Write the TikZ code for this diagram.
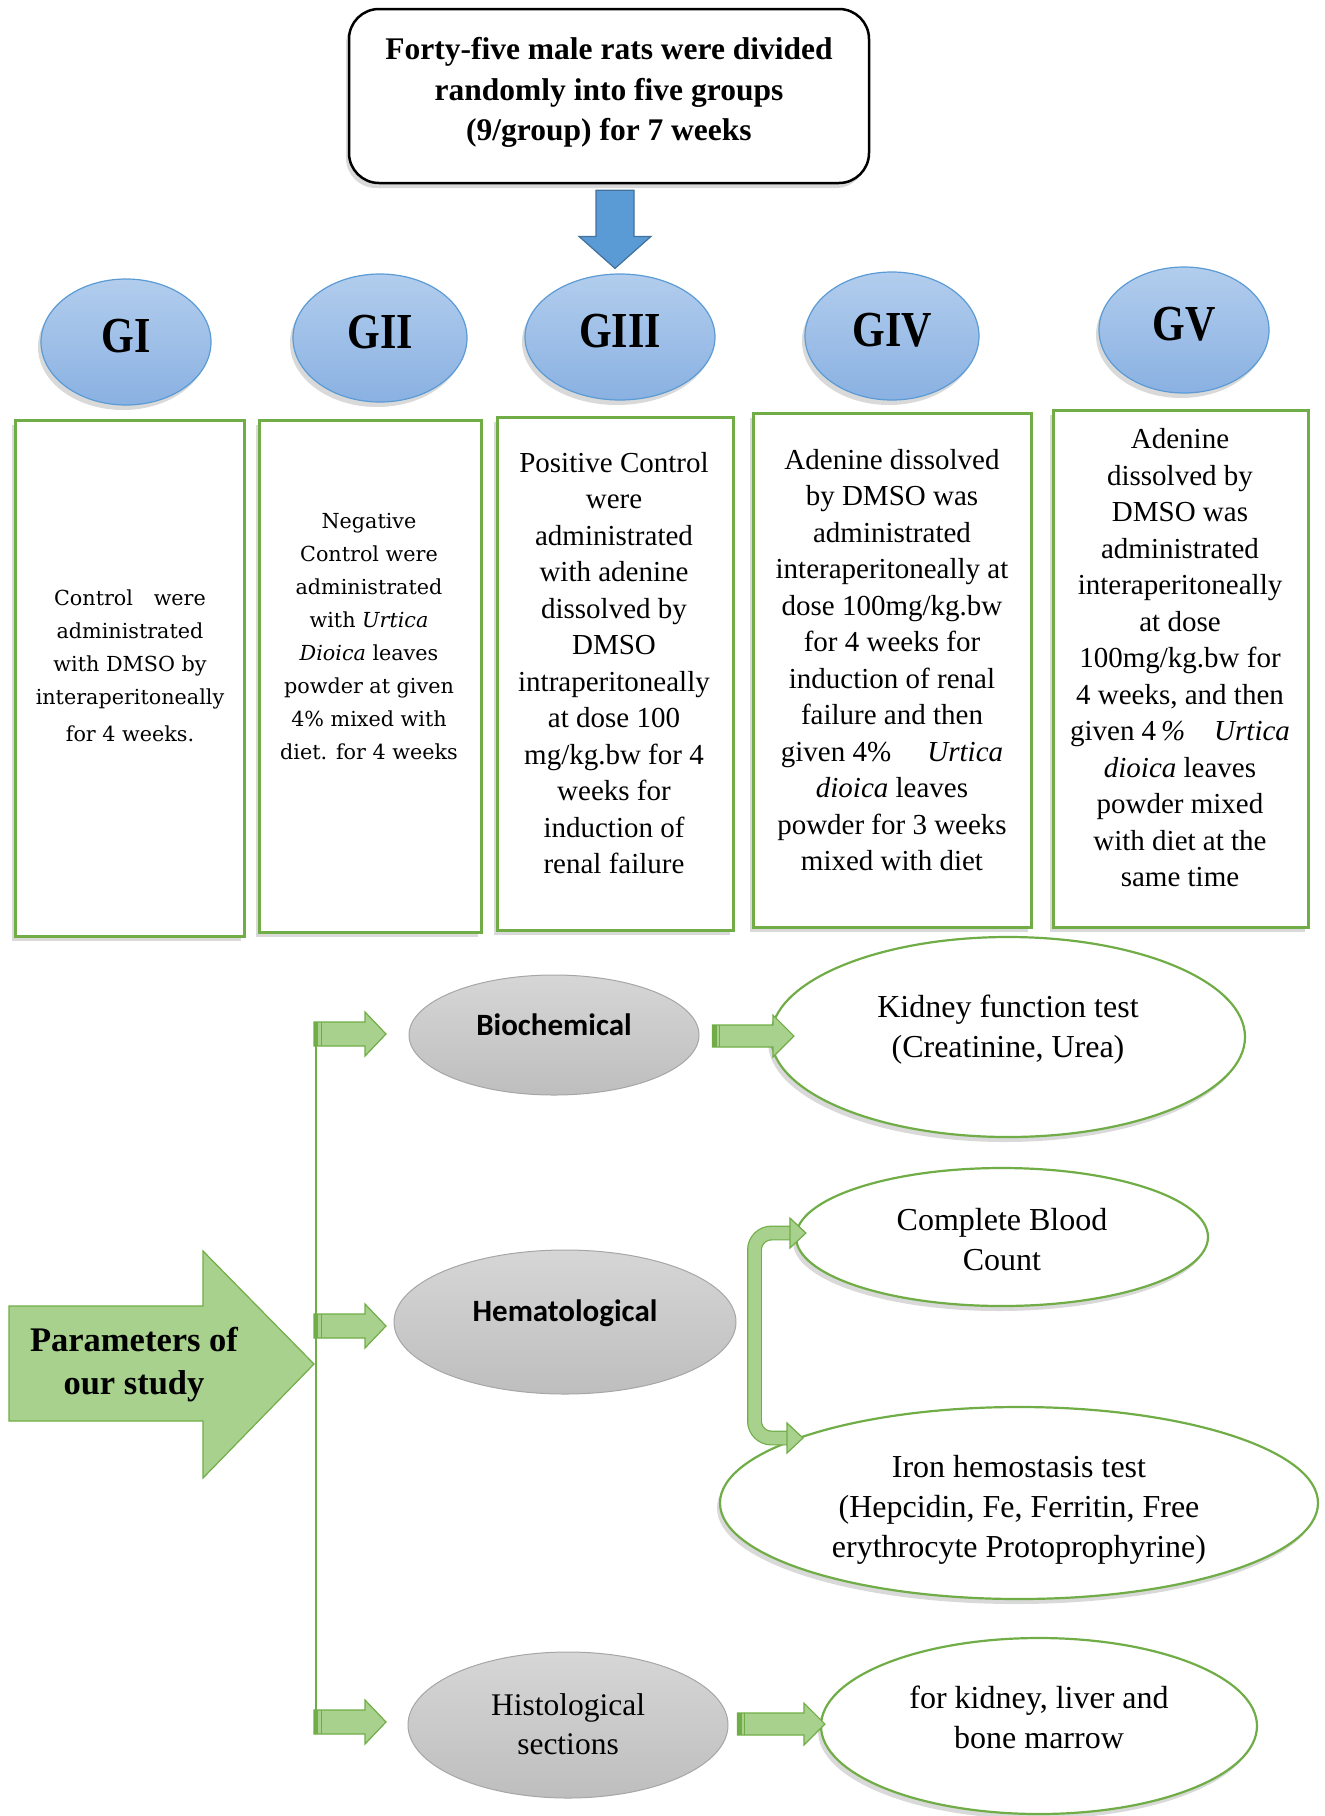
\documentclass[tikz,border=0pt]{standalone}
\usepackage{fontspec}
\usepackage{graphicx}
\setmainfont{Liberation Serif}
\newfontfamily\dvserif{DejaVu Serif}
\newfontfamily\carl{Carlito}
\usetikzlibrary{shadows,calc,shapes.geometric}
\definecolor{gborder}{RGB}{112,173,71}
\definecolor{gfill}{RGB}{169,209,142}
\definecolor{bluetop}{RGB}{178,205,237}
\definecolor{bluebot}{RGB}{138,177,226}
\definecolor{blueline}{RGB}{91,155,213}
\definecolor{bluearrow}{RGB}{91,155,213}
\definecolor{bluearrowline}{RGB}{65,113,156}
\definecolor{graytop}{RGB}{214,214,214}
\definecolor{graybot}{RGB}{190,190,190}
\definecolor{grayline}{RGB}{166,166,166}

\newcommand\hblock[5]{%
  \draw[garrow] let \p1=(#1), \p2=(#2) in
   (\x1,\y1+#3) -- (\x2-#5,\y1+#3) -- (\x2-#5,\y1+#4) -- (\x2,\y1) --
   (\x2-#5,\y1-#4) -- (\x2-#5,\y1-#3) -- (\x1,\y1-#3) -- cycle;
  \fill[gborder] let \p1=(#1) in (\x1,\y1+#3) rectangle (\x1+4pt,\y1-#3);
  \draw[gborder, line width=1pt] let \p1=(#1) in (\x1+7pt,\y1+#3) -- (\x1+7pt,\y1-#3);}
\newcommand\bentarr[2]{%
  \draw[bent] let \p1=(#1), \p2=(#2) in (\p1) |- (\x2-16pt,\y2);
  \draw[garrow] let \p2=(#2) in (\x2-16pt,\y2+15pt) -- (\p2) -- (\x2-16pt,\y2-15pt) -- cycle;}

\tikzset{
  shd/.style={drop shadow={shadow xshift=-3pt, shadow yshift=-5pt, opacity=0.3}},
  topbox/.style={draw=black, line width=2.5pt, rounded corners=30pt, fill=white, shd},
  grpell/.style={ellipse, draw=blueline, line width=1.2pt, top color=bluetop, bottom color=bluebot, inner sep=0pt, shd, font=\bfseries\fontsize{42}{42}\selectfont},
  grpbox/.style={draw=gborder, line width=3pt, fill=white, shd},
  grptxt/.style={align=center, inner sep=0pt, font=\fontsize{29}{36.5}\selectfont},
  oldtxt/.style={align=center, inner sep=0pt, font=\dvserif\fontsize{20.7}{33}\selectfont},
  grayell/.style={ellipse, draw=grayline, line width=1pt, top color=graytop, bottom color=graybot, inner sep=0pt},
  whiteell/.style={ellipse, draw=gborder, line width=2.2pt, fill=white, inner sep=0pt, shd},
  ovaltxt/.style={align=center, inner sep=0pt, font=\fontsize{32}{40}\selectfont},
  sanstxt/.style={inner sep=0pt, font=\carl\bfseries\fontsize{31}{36}\selectfont},
  garrow/.style={draw=gborder, line width=1.2pt, fill=gfill},
  bluearr/.style={fill=bluearrow, draw=bluearrowline, line width=1.2pt},
  bent/.style={draw=gborder, line width=1.2pt, double=gfill, double distance=12.5pt, rounded corners=17pt},
}
\newcommand\glabel[1]{\raisebox{12.5pt}{\scalebox{1}[1.2]{#1}}}

\begin{document}
\begin{tikzpicture}[x=1pt,y=-1pt]
\useasboundingbox (0,0) rectangle (1325,1816);

% ---------- top box ----------
\node[topbox, minimum width=520pt, minimum height=174pt] (top) at (609,96) {};
\node[align=center, inner sep=0pt, font=\bfseries\fontsize{31.5}{40.5}\selectfont] (toptxt) at (609,92.5)
  {Forty-five male rats were divided\\randomly into five groups\\(9/group) for 7 weeks};

% ---------- group ellipses ----------
\node[grpell, minimum width=170pt, minimum height=126pt] (g1) at (126,342) {\glabel{GI}};
\node[grpell, minimum width=174pt, minimum height=128pt] (g2) at (380,338) {\glabel{GII}};
\node[grpell, minimum width=190pt, minimum height=126pt] (g3) at (620,337) {\glabel{GIII}};
\node[grpell, minimum width=174pt, minimum height=128pt] (g4) at (892,336) {\glabel{GIV}};
\node[grpell, minimum width=170pt, minimum height=126pt] (g5) at (1184,330) {\glabel{GV}};

% ---------- blue arrow ----------
\draw[bluearr] let \p1=($(top.south)+(6,6)$), \p2=($(g3.north)+(-5,-5)$) in
  (\x1-19pt,\y1) -- (\x1+19pt,\y1) -- (\x1+19pt,\y2+32pt) -- (\x1+36pt,\y2+32pt) --
  (\x1,\y2) -- (\x1-36pt,\y2+32pt) -- (\x1-19pt,\y2+32pt) -- cycle;

% ---------- group boxes ----------
\node[grpbox, minimum width=229pt, minimum height=516pt] (b1) at (129.5,678) {};
\node[grpbox, minimum width=222pt, minimum height=512pt] (b2) at (370,676) {};
\node[grpbox, minimum width=236pt, minimum height=513pt] (b3) at (615,673.5) {};
\node[grpbox, minimum width=278pt, minimum height=514pt] (b4) at (892,670) {};
\node[grpbox, minimum width=255pt, minimum height=517pt] (b5) at (1180.5,668.5) {};

\node[oldtxt] (t1) at (130,666) {Control\quad were\\administrated\\with DMSO by\\interaperitoneally\\[4pt]for 4 weeks.};
\node[oldtxt] (t2) at (369,637) {Negative\\Control were\\administrated\\with \textit{Urtica}\\\textit{Dioica} leaves\\powder at given\\4\% mixed with\\diet. for 4 weeks};
\node[grptxt] (t3) at (614,663) {Positive Control\\were\\administrated\\with adenine\\dissolved by\\DMSO\\intraperitoneally\\at dose 100\\mg/kg.bw for 4\\weeks for\\induction of\\renal failure};
\node[grptxt] (t4) at (892,660) {Adenine dissolved\\by DMSO was\\administrated\\interaperitoneally at\\dose 100mg/kg.bw\\for 4 weeks for\\induction of renal\\failure and then\\given 4\%\quad\ \textit{Urtica}\\\textit{dioica} leaves\\powder for 3 weeks\\mixed with diet};
\node[grptxt] (t5) at (1180,658) {Adenine\\dissolved by\\DMSO was\\administrated\\interaperitoneally\\at dose\\100mg/kg.bw for\\4 weeks, and then\\given 4\,\textit{\%}\quad\textit{Urtica}\\\textit{dioica} leaves\\powder mixed\\with diet at the\\same time};

% ---------- bottom: parameters ----------
\coordinate (spt) at (316,1022);
\coordinate (spb) at (316,1727);
\draw[gborder, line width=2.5pt] (spt) -- (spb);

\draw[garrow] (9,1306) -- (203,1306) -- (203,1251) -- (314,1364) -- (203,1478) -- (203,1421) -- (9,1421) -- cycle;
\node[align=center, inner sep=0pt, font=\bfseries\fontsize{34.5}{43}\selectfont] (par) at (134,1364.5) {Parameters of\\our study};

% gray ellipses
\node[grayell, minimum width=290pt, minimum height=120pt] (bio) at (554,1035) {};
\node[grayell, minimum width=342pt, minimum height=144pt] (hem) at (565,1322) {};
\node[grayell, minimum width=320pt, minimum height=146pt] (his) at (568,1725) {};
\node[sanstxt] (biot) at ($(bio.center)+(0,-10)$) {Biochemical};
\node[sanstxt] (hemt) at ($(hem.center)+(0,-9)$) {Hematological};
\node[align=center, inner sep=0pt, font=\fontsize{31.5}{39}\selectfont] (hist) at ($(his.center)+(0,-1)$) {Histological\\sections};

% white ellipses
\node[whiteell, minimum width=474pt, minimum height=200pt] (kid) at (1008,1037) {};
\node[whiteell, minimum width=412pt, minimum height=138pt] (cbc) at (1002,1237) {};
\node[whiteell, minimum width=598pt, minimum height=192pt] (iron) at (1019,1503) {};
\node[whiteell, minimum width=436pt, minimum height=176pt] (bone) at (1039,1726) {};
\node[ovaltxt] (kidt) at ($(kid.center)+(0,-7.5)$) {Kidney function test\\(Creatinine, Urea)};
\node[ovaltxt] (cbct) at ($(cbc.center)+(0,3)$) {Complete Blood\\Count};
\node[ovaltxt] (iront) at ($(iron.center)+(0,6.5)$) {Iron hemostasis test\\(Hepcidin, Fe, Ferritin, Free\\erythrocyte Protoprophyrine)};
\node[ovaltxt] (bonet) at ($(bone.center)+(0,-9)$) {for kidney, liver and\\bone marrow};

% block arrows from spine
\coordinate (a1) at (314,1034);
\coordinate (a2) at (314,1326);
\coordinate (a3) at (314,1722);
\hblock{a1}{$(a1)+(72,0)$}{12pt}{22pt}{21pt}
\hblock{a2}{$(a2)+(72,0)$}{12pt}{22pt}{21pt}
\hblock{a3}{$(a3)+(72,0)$}{12pt}{22pt}{21pt}

% arrows to results
\hblock{$(bio.east)+(13,1)$}{$(kid.west)+(24,-1)$}{11pt}{21pt}{21pt}
\hblock{$(his.east)+(9,-1)$}{$(bone.west)+(5,-2)$}{11pt}{21pt}{21pt}

\coordinate (hj) at ($(hem.east)+(18,24)$);
\coordinate (cbctip) at ($(cbc.west)+(11,-4)$);
\coordinate (irontip) at (803,1438);
\bentarr{hj}{cbctip}
\bentarr{hj}{irontip}

\end{tikzpicture}
\end{document}
